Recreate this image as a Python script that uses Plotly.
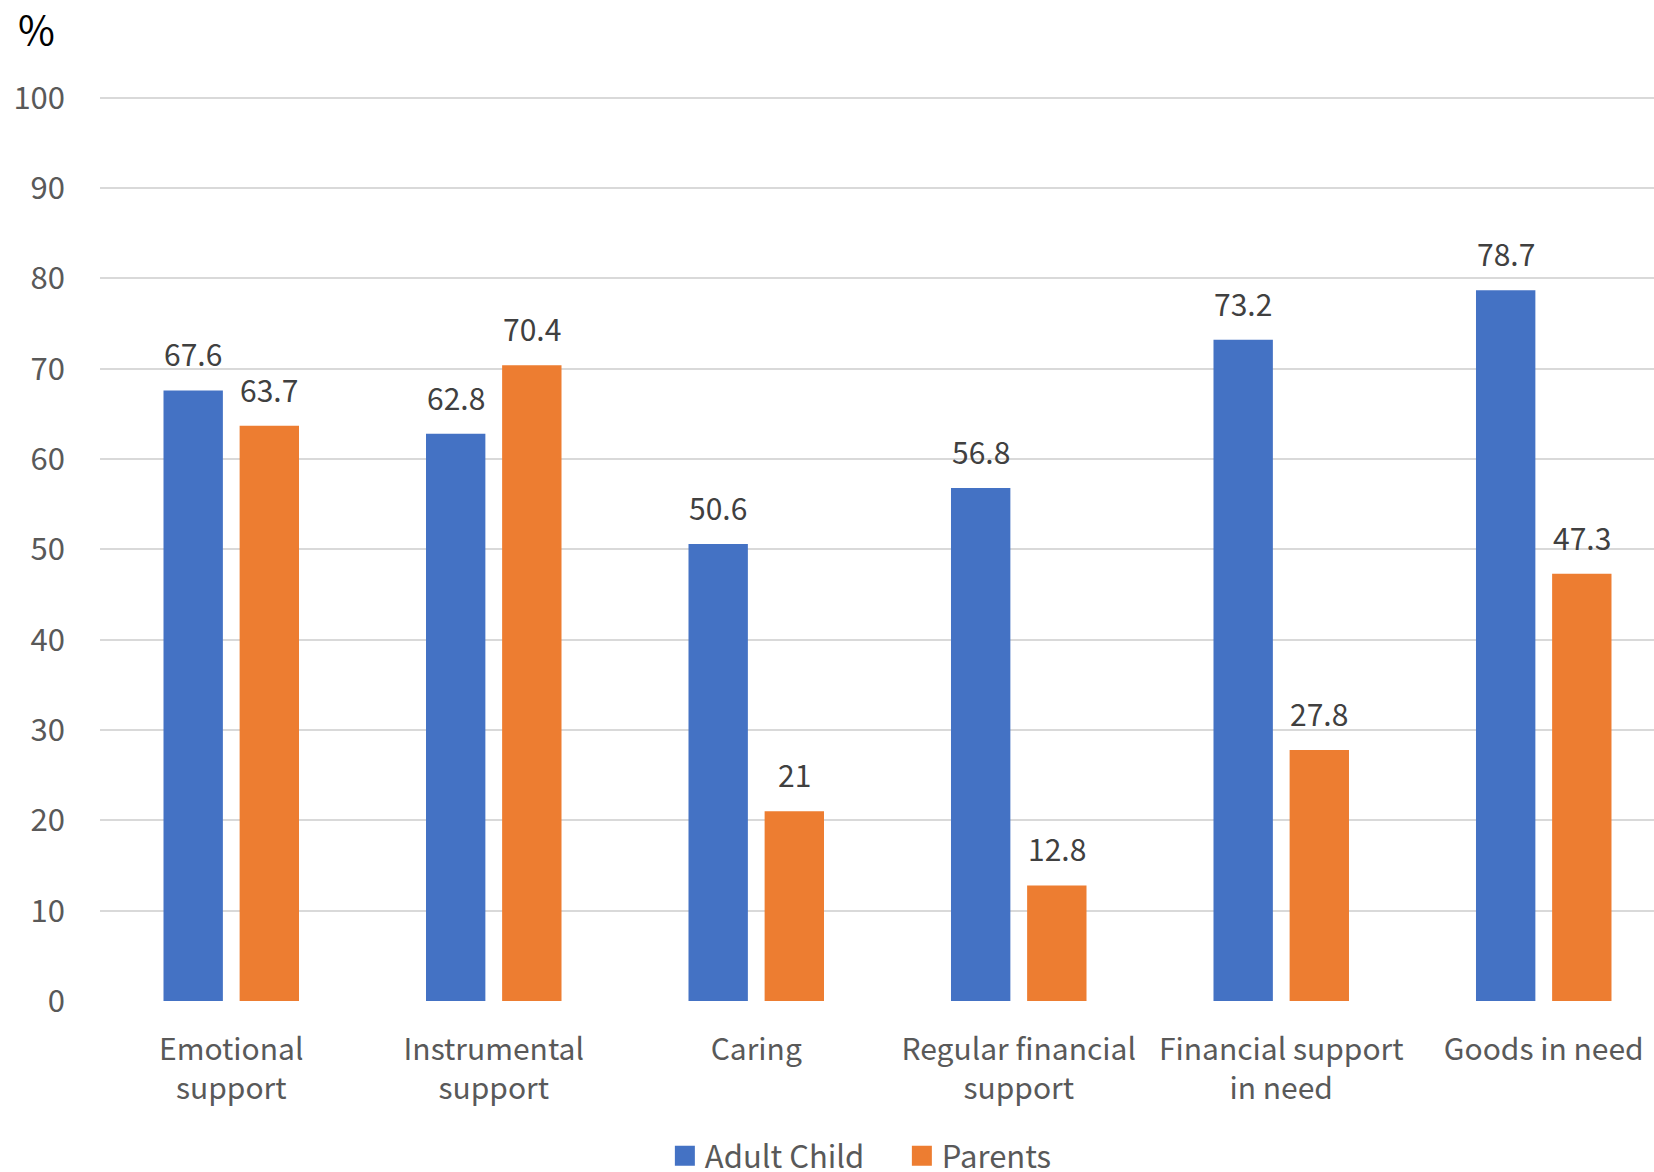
import plotly.graph_objects as go

categories = ["Emotional<br>support", "Instrumental<br>support", "Caring",
              "Regular financial<br>support", "Financial support<br>in need", "Goods in need"]
adult_child = [67.6, 62.8, 50.6, 56.8, 73.2, 78.7]
parents = [63.7, 70.4, 21, 12.8, 27.8, 47.3]
y_ticks = [0, 10, 20, 30, 40, 50, 60, 70, 80, 90, 100]
series_names = ["Adult Child", "Parents"]

FONT = "Noto Sans CJK KR"
BLUE = "#4472C4"
ORANGE = "#ED7D31"
colors = [BLUE, ORANGE]

fig = go.Figure()
for name, vals, col in zip(series_names, (adult_child, parents), colors):
    fig.add_trace(go.Bar(name=name, x=categories, y=vals, showlegend=False,
                         marker=dict(color=col, line=dict(width=0))))
# legend entries with larger square swatches
for name, col in zip(series_names, colors):
    fig.add_trace(go.Scatter(name=name, x=[None], y=[None], mode="markers",
                             marker=dict(symbol="square", size=16, color=col,
                                         line=dict(color=col, width=4)),
                             showlegend=True))

slot_off = 38
for vals, off in ((adult_child, -slot_off), (parents, slot_off)):
    for c, v in zip(categories, vals):
        fig.add_annotation(x=c, y=v, text=f"{v:g}", showarrow=False,
                           xshift=off, yshift=37, yanchor="middle",
                           font=dict(family=FONT, size=30, color="#404040"))

plot_h = 1172 - 96 - 171
fig.add_annotation(xref="paper", yref="paper", x=-84 / 1554, y=1 + 68 / plot_h,
                   xanchor="left", yanchor="middle", text="%", showarrow=False,
                   font=dict(family=FONT, size=40, color="#000000"))

fig.update_layout(
    width=1654, height=1172,
    margin=dict(l=100, r=0, t=96, b=171, autoexpand=False),
    plot_bgcolor="white", paper_bgcolor="white",
    barmode="group", bargap=0.42, bargroupgap=0.22,
    font=dict(family=FONT, size=30, color="#595959"),
    showlegend=True,
    legend=dict(orientation="h", x=0.516, xanchor="center",
                y=-(1156 - 1001) / plot_h, yanchor="middle",
                font=dict(family=FONT, size=31, color="#595959"),
                itemwidth=30, tracegroupgap=0, entrywidth=192, entrywidthmode="pixels"),
)
fig.update_xaxes(range=[-0.5, 5.5 - 21 / 262.6], showgrid=False, zeroline=False,
                 showline=False, ticks="", ticklabelstandoff=28,
                 tickfont=dict(family=FONT, size=30, color="#595959"))
fig.update_yaxes(range=[0, 100.2], tickvals=y_ticks, showgrid=True, gridcolor="#D9D9D9",
                 gridwidth=2, zeroline=False, showline=False, ticks="",
                 ticklabelstandoff=34,
                 tickfont=dict(family=FONT, size=31, color="#595959"))

fig.write_html("out.html")
